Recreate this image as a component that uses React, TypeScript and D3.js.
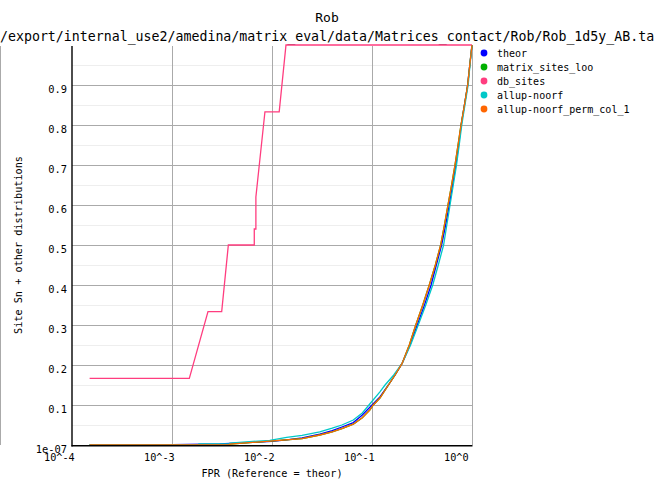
import * as d3 from 'd3';

// ROC-like curves: [FPR, site Sn]
const theor: [number, number][] = [
  [1.5e-4, 0], [1e-3, 0.001], [3e-3, 0.003], [0.01, 0.009], [0.014, 0.013],
  [0.02, 0.018], [0.03, 0.027], [0.04, 0.036], [0.05, 0.045], [0.065, 0.056],
  [0.08, 0.075], [0.1, 0.1], [0.12, 0.12], [0.146, 0.15], [0.17, 0.175],
  [0.2, 0.204], [0.24, 0.25], [0.284, 0.3], [0.335, 0.35], [0.39, 0.4],
  [0.44, 0.45], [0.497, 0.5], [0.545, 0.55], [0.593, 0.6], [0.64, 0.65],
  [0.69, 0.7], [0.735, 0.75], [0.78, 0.8], [0.84, 0.85], [0.905, 0.9],
  [0.95, 0.95], [1, 1],
];

const matrixSitesLoo: [number, number][] = [
  [1.5e-4, 0], [3.8e-3, 0], [3.8e-3, 0.0025], [0.0095, 0.0095], [0.02, 0.016],
  [0.03, 0.025], [0.04, 0.033], [0.05, 0.041], [0.065, 0.052], [0.08, 0.068],
  [0.095, 0.0875], [0.103, 0.1], [0.12, 0.1175], [0.146, 0.15], [0.17, 0.175],
  [0.2, 0.204], [0.236, 0.25], [0.274, 0.3], [0.322, 0.35], [0.374, 0.4],
  [0.43, 0.45], [0.486, 0.5], [0.53, 0.55], [0.575, 0.6], [0.625, 0.65],
  [0.676, 0.7], [0.725, 0.75], [0.776, 0.8], [0.84, 0.85], [0.905, 0.9],
  [0.95, 0.95], [1, 1],
];

const dbSites: [number, number][] = [
  [1.5e-4, 0.1667], [1.49e-3, 0.1667], [2.29e-3, 0.3333], [3.14e-3, 0.3333],
  [3.66e-3, 0.5], [6.65e-3, 0.5], [6.65e-3, 0.54], [6.9e-3, 0.54],
  [6.9e-3, 0.62], [8.5e-3, 0.833], [1.18e-2, 0.833], [1.38e-2, 1], [1, 1],
];

const allupNoorf: [number, number][] = [
  [1.5e-4, 0], [1.86e-3, 0], [1.86e-3, 0.0025], [3.8e-3, 0.0025], [3.8e-3, 0.005],
  [0.0095, 0.0117], [0.014, 0.019], [0.02, 0.024], [0.03, 0.033], [0.04, 0.042],
  [0.05, 0.05], [0.065, 0.0625], [0.08, 0.08], [0.095, 0.1025], [0.12, 0.133],
  [0.135, 0.15], [0.165, 0.175], [0.2, 0.204], [0.243, 0.25], [0.29, 0.3],
  [0.345, 0.35], [0.405, 0.4], [0.46, 0.45], [0.52, 0.5], [0.56, 0.55],
  [0.603, 0.6], [0.65, 0.65], [0.7, 0.7], [0.745, 0.75], [0.79, 0.8],
  [0.85, 0.85], [0.915, 0.9], [0.955, 0.95], [1, 1],
];

const allupNoorfPermCol1: [number, number][] = [
  [1.5e-4, 0], [3.8e-3, 0], [3.8e-3, 0.0025], [0.0095, 0.0095], [0.02, 0.016],
  [0.03, 0.025], [0.04, 0.033], [0.05, 0.041], [0.065, 0.052], [0.08, 0.068],
  [0.095, 0.0875], [0.103, 0.1], [0.12, 0.1175], [0.146, 0.15], [0.17, 0.175],
  [0.2, 0.204], [0.236, 0.25], [0.274, 0.3], [0.322, 0.35], [0.374, 0.4],
  [0.43, 0.45], [0.486, 0.5], [0.53, 0.55], [0.575, 0.6], [0.625, 0.65],
  [0.676, 0.7], [0.725, 0.75], [0.776, 0.8], [0.84, 0.85], [0.905, 0.9],
  [0.95, 0.95], [1, 1],
];

const seriesNames = ['theor', 'matrix_sites_loo', 'db_sites', 'allup-noorf', 'allup-noorf_perm_col_1'];
const seriesColors = ['#0000ff', '#00b000', '#ff3d7f', '#00c8c8', '#ff6600'];
const seriesData = [theor, matrixSitesLoo, dbSites, allupNoorf, allupNoorfPermCol1];

const yTicks = [0.1, 0.2, 0.3, 0.4, 0.5, 0.6, 0.7, 0.8, 0.9];
const yMinorTicks = [0.05, 0.15, 0.25, 0.35, 0.45, 0.55, 0.65, 0.75, 0.85, 0.95];
const xTicks = [1e-4, 1e-3, 1e-2, 1e-1, 1];
const xTickLabels = ['10^-4', '10^-3', '10^-2', '10^-1', '10^0'];

const W = 654;
const H = 498;
const FONT = '"DejaVu Sans Mono", monospace';

export default function App() {
  const x = d3.scaleLog().domain([1e-4, 1]).range([72, 472]);
  const y = d3.scaleLinear().domain([0, 1]).range([445, 45]);
  const line = d3
    .line<[number, number]>()
    .x((d) => x(d[0]))
    .y((d) => y(d[1]));

  return (
    <svg
      width={W}
      height={H}
      style={{ position: 'absolute', left: 0, top: 0, background: '#fff' }}
      fontFamily={FONT}
    >
      {/* titles */}
      <text x={327} y={22} textAnchor="middle" fontSize={13} fill="#000">
        Rob
      </text>
      <text x={0} y={41} fontSize={13.25} fill="#000">
        /export/internal_use2/amedina/matrix_eval/data/Matrices_contact/Rob/Rob_1d5y_AB.tab
      </text>

      {/* far-left border */}
      <line x1={0.5} x2={0.5} y1={46} y2={445} stroke="#aaa" />

      {/* minor grid */}
      {yMinorTicks.map((t) => (
        <line key={'m' + t} x1={72} x2={472} y1={y(t) + 0.5} y2={y(t) + 0.5} stroke="#eeeeee" />
      ))}
      {/* major grid */}
      {yTicks.map((t) => (
        <line key={'g' + t} x1={72} x2={472} y1={y(t) + 0.5} y2={y(t) + 0.5} stroke="#aaaaaa" />
      ))}
      {xTicks.slice(1).map((t) => (
        <line key={'v' + t} x1={x(t) + 0.5} x2={x(t) + 0.5} y1={46} y2={445} stroke="#aaaaaa" />
      ))}

      {/* curves */}
      {seriesData.map((d, i) => (
        <path
          key={seriesNames[i]}
          d={line(d) ?? ''}
          fill="none"
          stroke={seriesColors[i]}
          strokeWidth={1.3}
        />
      ))}

      {/* axes */}
      <line x1={72} x2={72} y1={46} y2={446.5} stroke="#000" strokeWidth={1.4} />
      <line x1={71.5} x2={472.5} y1={445.8} y2={445.8} stroke="#000" strokeWidth={1.4} />

      {/* y tick labels */}
      {yTicks.map((t) => (
        <text key={'yt' + t} x={67} y={y(t) + 7.5} textAnchor="end" fontSize={10.4} fill="#000">
          {t.toFixed(1)}
        </text>
      ))}
      <text x={67} y={453} textAnchor="end" fontSize={10.4} fill="#000">
        1e-07
      </text>

      {/* x tick labels */}
      {xTicks.map((t, i) => (
        <text key={'xt' + t} x={x(t) - 28} y={461} fontSize={10.2} fill="#000">
          {xTickLabels[i]}
        </text>
      ))}

      {/* axis titles */}
      <text x={272} y={477} textAnchor="middle" fontSize={10.2} fill="#000">
        FPR (Reference = theor)
      </text>
      <text
        transform="translate(22,245) rotate(-90)"
        textAnchor="middle"
        fontSize={10.2}
        fill="#000"
      >
        Site Sn + other distributions
      </text>

      {/* legend */}
      {seriesNames.map((name, i) => (
        <g key={'lg' + name} transform={`translate(484,${53 + i * 14})`}>
          <circle r={3.4} fill={seriesColors[i]} />
          <text x={13} y={3.6} fontSize={10} fill="#000">
            {name}
          </text>
        </g>
      ))}
    </svg>
  );
}
